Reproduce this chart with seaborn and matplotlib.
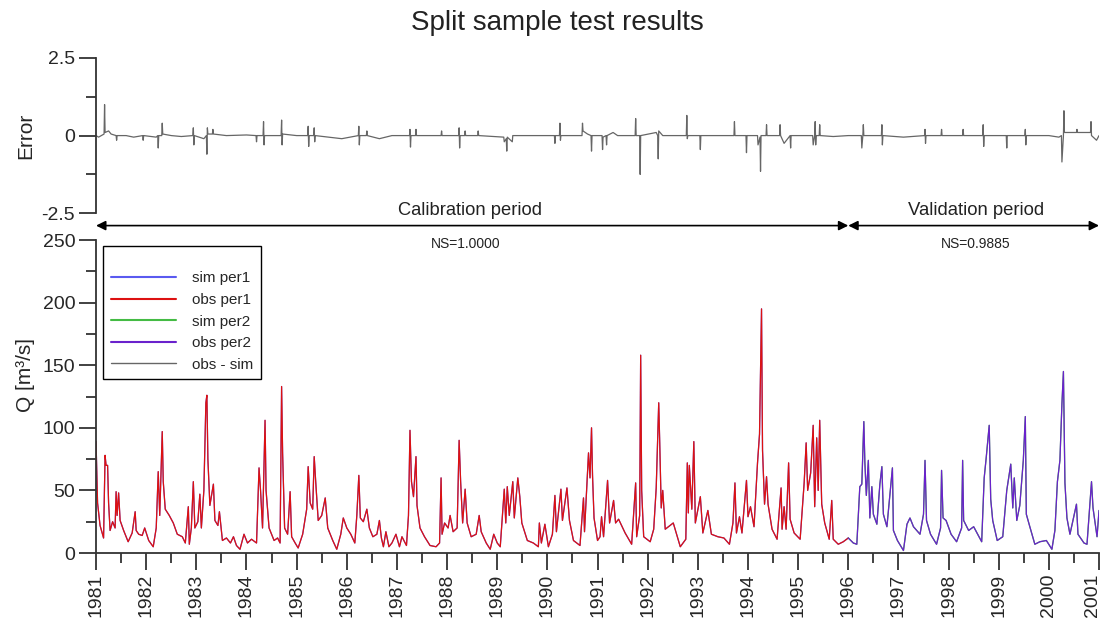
import matplotlib
matplotlib.use("Agg")
import matplotlib.pyplot as plt
from matplotlib.ticker import MultipleLocator, FixedLocator
from matplotlib.lines import Line2D
from matplotlib.transforms import ScaledTranslation
import seaborn as sns
import pandas as pd

# ---------------- data ----------------
# Discharge, calibration period (obs per1; sim per1 coincides, NS=1.0000)
per1_t = [1981.00, 1981.03, 1981.08, 1981.15, 1981.18, 1981.20, 1981.23, 1981.25, 1981.28, 1981.33,
          1981.38, 1981.40, 1981.42, 1981.45, 1981.48, 1981.55, 1981.64, 1981.72, 1981.78, 1981.80,
          1981.85, 1981.92, 1981.97, 1982.05, 1982.14, 1982.20, 1982.24, 1982.27, 1982.32, 1982.34,
          1982.38, 1982.46, 1982.54, 1982.62, 1982.72, 1982.78, 1982.84, 1982.86, 1982.90, 1982.94,
          1982.97, 1983.03, 1983.07, 1983.10, 1983.15, 1983.19, 1983.21, 1983.23, 1983.27, 1983.34,
          1983.37, 1983.43, 1983.46, 1983.52, 1983.60, 1983.68, 1983.74, 1983.80, 1983.87, 1983.95,
          1984.02, 1984.10, 1984.20, 1984.25, 1984.28, 1984.32, 1984.37, 1984.39, 1984.45, 1984.55,
          1984.62, 1984.67, 1984.70, 1984.72, 1984.76, 1984.82, 1984.87, 1984.90, 1984.97, 1985.03,
          1985.12, 1985.20, 1985.23, 1985.27, 1985.32, 1985.35, 1985.38, 1985.43, 1985.50, 1985.57,
          1985.62, 1985.72, 1985.80, 1985.88, 1985.93, 1986.00, 1986.08, 1986.16, 1986.20, 1986.24,
          1986.27, 1986.33, 1986.40, 1986.45, 1986.52, 1986.60, 1986.65, 1986.69, 1986.73, 1986.78,
          1986.84, 1986.90, 1986.98, 1987.05, 1987.10, 1987.19, 1987.23, 1987.26, 1987.29, 1987.33,
          1987.38, 1987.40, 1987.46, 1987.55, 1987.66, 1987.78, 1987.85, 1987.88, 1987.90, 1987.95,
          1988.02, 1988.06, 1988.12, 1988.20, 1988.24, 1988.27, 1988.31, 1988.36, 1988.40, 1988.48,
          1988.58, 1988.64, 1988.68, 1988.78, 1988.86, 1988.93, 1989.00, 1989.06, 1989.14, 1989.17,
          1989.20, 1989.24, 1989.31, 1989.34, 1989.41, 1989.45, 1989.49, 1989.60, 1989.72, 1989.82,
          1989.84, 1989.88, 1989.95, 1990.02, 1990.10, 1990.15, 1990.18, 1990.27, 1990.30, 1990.39,
          1990.44, 1990.52, 1990.65, 1990.72, 1990.74, 1990.82, 1990.85, 1990.88, 1990.90, 1990.93,
          1991.00, 1991.05, 1991.08, 1991.12, 1991.20, 1991.24, 1991.32, 1991.36, 1991.42, 1991.55,
          1991.68, 1991.76, 1991.78, 1991.84, 1991.86, 1991.88, 1991.92, 1992.05, 1992.12, 1992.17,
          1992.22, 1992.24, 1992.27, 1992.30, 1992.35, 1992.51, 1992.65, 1992.76, 1992.79, 1992.81,
          1992.83, 1992.88, 1992.92, 1992.95, 1993.05, 1993.10, 1993.20, 1993.27, 1993.40, 1993.52,
          1993.63, 1993.70, 1993.74, 1993.77, 1993.83, 1993.88, 1993.97, 1994.00, 1994.05, 1994.12,
          1994.19, 1994.23, 1994.27, 1994.29, 1994.33, 1994.37, 1994.40, 1994.48, 1994.58, 1994.66,
          1994.68, 1994.72, 1994.76, 1994.81, 1994.84, 1994.92, 1995.04, 1995.12, 1995.16, 1995.19,
          1995.25, 1995.30, 1995.33, 1995.37, 1995.40, 1995.43, 1995.47, 1995.53, 1995.62, 1995.67,
          1995.70, 1995.80, 1995.90, 1996.00]
per1_q = [89, 40, 22, 12, 78, 70, 70, 40, 18, 25,
          20, 49, 30, 48, 26, 18, 9, 16, 33, 18,
          15, 14, 20, 10, 5, 20, 65, 30, 97, 57,
          35, 30, 24, 15, 13, 8, 37, 7, 20, 57,
          20, 25, 47, 20, 50, 120, 126, 75, 38, 55,
          26, 22, 33, 10, 12, 8, 13, 6, 3, 15,
          8, 11, 8, 68, 50, 20, 106, 50, 20, 10,
          12, 8, 133, 80, 20, 15, 49, 13, 8, 4,
          15, 35, 69, 40, 35, 77, 57, 26, 30, 44,
          20, 10, 3, 15, 28, 20, 15, 8, 30, 62,
          28, 25, 35, 20, 13, 15, 26, 12, 5, 17,
          5, 8, 15, 5, 13, 6, 30, 98, 57, 45,
          77, 38, 20, 13, 6, 5, 8, 60, 15, 24,
          20, 30, 17, 20, 90, 57, 24, 51, 24, 13,
          15, 30, 17, 8, 3, 15, 8, 5, 51, 24,
          53, 30, 57, 28, 60, 45, 24, 10, 8, 5,
          24, 8, 23, 5, 15, 46, 17, 51, 26, 52,
          26, 10, 6, 44, 17, 80, 60, 100, 62, 28,
          10, 13, 29, 13, 58, 24, 42, 24, 27, 16,
          7, 56, 13, 30, 158, 50, 13, 9, 19, 52,
          120, 88, 36, 50, 19, 24, 5, 11, 72, 32,
          70, 35, 89, 24, 45, 16, 34, 15, 13, 12,
          7, 24, 56, 16, 29, 16, 58, 29, 37, 21,
          72, 95, 195, 82, 39, 61, 39, 19, 11, 52,
          19, 37, 19, 72, 27, 16, 11, 56, 88, 50,
          64, 102, 37, 92, 50, 106, 39, 24, 11, 42,
          11, 7, 9, 12]

# Discharge, validation period (obs per2; sim per2 coincides closely)
per2_t = [1996.00, 1996.05, 1996.10, 1996.17, 1996.23, 1996.27, 1996.31, 1996.33, 1996.36, 1996.40,
          1996.43, 1996.47, 1996.50, 1996.57, 1996.63, 1996.67, 1996.70, 1996.77, 1996.88, 1996.90,
          1996.98, 1997.10, 1997.17, 1997.23, 1997.30, 1997.43, 1997.50, 1997.53, 1997.56, 1997.64,
          1997.76, 1997.84, 1997.86, 1997.89, 1997.95, 1998.05, 1998.16, 1998.26, 1998.28, 1998.30,
          1998.40, 1998.50, 1998.66, 1998.71, 1998.75, 1998.81, 1998.84, 1998.88, 1998.97, 1999.08,
          1999.16, 1999.24, 1999.28, 1999.31, 1999.36, 1999.42, 1999.49, 1999.53, 1999.55, 1999.62,
          1999.72, 1999.82, 1999.95, 2000.06, 2000.12, 2000.17, 2000.22, 2000.26, 2000.29, 2000.32,
          2000.36, 2000.42, 2000.48, 2000.55, 2000.58, 2000.70, 2000.76, 2000.85, 2000.88, 2000.96,
          2001.00]
per2_q = [12, 10, 8, 7, 53, 55, 105, 73, 46, 74,
          28, 53, 31, 23, 55, 69, 31, 21, 68, 18,
          10, 2, 23, 28, 21, 15, 31, 74, 26, 15,
          7, 20, 66, 28, 26, 15, 9, 20, 74, 26,
          18, 21, 9, 60, 76, 102, 43, 26, 10, 13,
          50, 71, 36, 60, 26, 38, 74, 109, 31, 21,
          7, 9, 10, 3, 18, 57, 74, 119, 145, 56,
          28, 15, 26, 39, 15, 8, 7, 57, 36, 13,
          34]

# Error (obs - sim): mostly flat with sharp spikes
err_t = [1981.00, 1981.05, 1981.16, 1981.17, 1981.18, 1981.25, 1981.30, 1981.40, 1981.41, 1981.42,
         1981.60, 1981.75, 1981.93, 1981.94, 1981.95, 1982.20, 1982.23, 1982.24, 1982.25, 1982.31,
         1982.32, 1982.33, 1982.50, 1982.70, 1982.93, 1982.94, 1982.95, 1982.96, 1983.15, 1983.20,
         1983.21, 1983.22, 1983.23, 1983.32, 1983.33, 1983.34, 1983.60, 1984.00, 1984.19, 1984.20,
         1984.21, 1984.33, 1984.34, 1984.35, 1984.36, 1984.60, 1984.69, 1984.70, 1984.71, 1984.72,
         1985.00, 1985.22, 1985.23, 1985.24, 1985.25, 1985.34, 1985.35, 1985.36, 1985.37, 1985.90,
         1986.23, 1986.24, 1986.25, 1986.26, 1986.39, 1986.40, 1986.41, 1986.65, 1986.90, 1987.25,
         1987.26, 1987.27, 1987.28, 1987.37, 1987.38, 1987.39, 1987.88, 1987.89, 1987.90, 1988.23,
         1988.24, 1988.25, 1988.26, 1988.35, 1988.36, 1988.37, 1988.61, 1988.62, 1988.63, 1989.13,
         1989.14, 1989.18, 1989.19, 1989.20, 1989.30, 1989.31, 1989.80, 1990.14, 1990.15, 1990.16,
         1990.24, 1990.25, 1990.26, 1990.27, 1990.69, 1990.70, 1990.71, 1990.80, 1990.87, 1990.88,
         1990.89, 1991.09, 1991.10, 1991.11, 1991.17, 1991.18, 1991.19, 1991.31, 1991.40, 1991.75,
         1991.76, 1991.77, 1991.84, 1991.85, 1991.86, 1992.17, 1992.20, 1992.21, 1992.22, 1992.30,
         1992.77, 1992.78, 1992.79, 1992.80, 1993.04, 1993.05, 1993.06, 1993.72, 1993.73, 1993.74,
         1993.96, 1993.97, 1993.98, 1994.19, 1994.20, 1994.24, 1994.25, 1994.26, 1994.36, 1994.37,
         1994.38, 1994.63, 1994.64, 1994.65, 1994.72, 1994.84, 1994.85, 1994.86, 1995.29, 1995.30,
         1995.33, 1995.34, 1995.35, 1995.36, 1995.42, 1995.43, 1995.44, 1995.70, 1996.00, 1996.26,
         1996.27, 1996.29, 1996.30, 1996.31, 1996.66, 1996.67, 1996.68, 1996.69, 1997.10, 1997.52,
         1997.53, 1997.54, 1997.55, 1997.85, 1997.86, 1997.87, 1998.28, 1998.29, 1998.30, 1998.68,
         1998.69, 1998.70, 1998.71, 1999.15, 1999.16, 1999.17, 1999.52, 1999.53, 1999.54, 1999.55,
         2000.00, 2000.20, 2000.25, 2000.26, 2000.29, 2000.30, 2000.31, 2000.55, 2000.56, 2000.57,
         2000.83, 2000.84, 2000.85, 2000.95, 2001.00]
err_v = [0.00, -0.05, 0.05, 1.00, 0.10, 0.15, 0.05, 0.00, -0.15, 0.00,
         0.00, -0.05, 0.00, -0.15, 0.00, -0.05, 0.00, -0.40, 0.00, 0.00,
         0.40, 0.05, 0.00, -0.03, 0.00, 0.25, -0.30, 0.00, -0.10, 0.00,
         -0.60, 0.25, 0.05, 0.05, 0.20, 0.05, 0.00, 0.02, 0.00, -0.20,
         0.00, 0.00, 0.45, -0.30, 0.00, 0.00, 0.00, 0.50, -0.30, 0.05,
         0.00, 0.00, 0.30, -0.35, 0.00, 0.00, 0.25, -0.20, 0.00, -0.10,
         0.00, 0.30, -0.30, 0.00, 0.00, 0.15, 0.00, -0.10, 0.00, 0.00,
         0.20, -0.37, 0.00, 0.00, 0.20, 0.00, 0.00, 0.15, 0.00, 0.00,
         0.25, -0.40, 0.00, 0.00, 0.15, 0.00, 0.00, 0.15, 0.00, -0.05,
         -0.20, -0.10, -0.50, -0.05, -0.20, 0.00, 0.00, 0.00, -0.25, 0.00,
         0.00, 0.40, -0.15, 0.00, 0.00, 0.40, 0.15, 0.05, 0.00, -0.50,
         0.00, 0.00, -0.45, -0.05, 0.00, -0.30, 0.00, 0.10, 0.00, 0.00,
         0.55, 0.00, 0.00, -1.25, 0.00, 0.10, 0.00, -0.75, 0.15, 0.00,
         0.00, 0.65, -0.10, 0.00, 0.00, -0.45, 0.00, 0.00, 0.45, 0.00,
         0.00, -0.55, 0.00, 0.00, -0.30, -0.05, -1.15, 0.00, 0.00, 0.35,
         0.00, 0.00, 0.35, 0.00, -0.25, 0.00, -0.40, 0.00, 0.00, -0.30,
         0.00, 0.45, -0.30, 0.00, 0.00, 0.35, 0.00, -0.03, 0.00, 0.00,
         -0.40, 0.00, 0.35, 0.00, 0.00, 0.35, -0.30, 0.00, -0.05, 0.00,
         0.20, -0.25, 0.00, 0.00, 0.20, 0.00, 0.00, 0.20, 0.00, 0.00,
         0.35, -0.35, 0.00, 0.00, -0.40, 0.00, 0.00, 0.20, -0.30, 0.00,
         0.00, -0.05, 0.00, -0.85, 0.00, 0.80, 0.10, 0.10, 0.20, 0.10,
         0.10, 0.45, 0.00, -0.15, 0.00]

years = list(range(1981, 2002))
ns_cal = "NS=1.0000"
ns_val = "NS=0.9885"

# ---------------- styling ----------------
sns.set_style("ticks")
plt.rcParams["font.family"] = ["Liberation Sans", "DejaVu Sans"]
spine_col = "#333333"

c_sim1 = "#5a5af0"
c_obs1 = "#dd1111"
c_sim2 = "#44bb44"
c_obs2 = "#6a22cc"
c_err = "#666666"

df1 = pd.DataFrame({"t": per1_t, "q": per1_q})
df2 = pd.DataFrame({"t": per2_t, "q": per2_q})
dfe = pd.DataFrame({"t": err_t, "e": err_v})

fig = plt.figure(figsize=(11.04, 6.27), dpi=100)
ax1 = fig.add_axes([0.087, 0.660, 0.9085, 0.2475])
ax2 = fig.add_axes([0.087, 0.118, 0.9085, 0.4992])
ax2.patch.set_alpha(0)
ax1.patch.set_alpha(0)

# --- top panel: error ---
sns.lineplot(data=dfe, x="t", y="e", ax=ax1, color=c_err, lw=0.9, estimator=None, sort=False)
ax1.set_xlim(1981, 2001)
ax1.set_ylim(-2.5, 2.5)
for s in ["top", "right", "bottom"]:
    ax1.spines[s].set_visible(False)
ax1.spines["left"].set_color(spine_col)
ax1.spines["left"].set_linewidth(1.3)
ax1.set_xticks([])
ax1.set_xlabel("")
ax1.yaxis.set_major_locator(FixedLocator([-2.5, 0, 2.5]))
ax1.yaxis.set_minor_locator(FixedLocator([-1.25, 1.25]))
ax1.set_yticklabels(["-2.5", "0", "2.5"])
ax1.tick_params(axis="y", which="major", length=12, width=1.3, color=spine_col, labelsize=14, pad=3)
ax1.tick_params(axis="y", which="minor", length=7, width=1.3, color=spine_col)
ax1.set_ylabel("Error", fontsize=15)
ax1.yaxis.set_label_coords(-0.061, 0.5)

# --- bottom panel: discharge ---
sns.lineplot(data=df1, x="t", y="q", ax=ax2, color=c_sim1, lw=0.9, estimator=None, sort=False)
sns.lineplot(data=df1, x="t", y="q", ax=ax2, color=c_obs1, lw=0.9, estimator=None, sort=False)
sns.lineplot(data=df2, x="t", y="q", ax=ax2, color=c_sim2, lw=0.9, estimator=None, sort=False)
sns.lineplot(data=df2, x="t", y="q", ax=ax2, color=c_obs2, lw=0.9, estimator=None, sort=False)
ax2.set_xlim(1981, 2001)
ax2.set_ylim(0, 250)
for s in ["top", "right"]:
    ax2.spines[s].set_visible(False)
for s in ["left", "bottom"]:
    ax2.spines[s].set_color(spine_col)
    ax2.spines[s].set_linewidth(1.3)
ax2.xaxis.set_major_locator(FixedLocator(years))
ax2.xaxis.set_minor_locator(MultipleLocator(0.5))
ax2.set_xticklabels([str(y) for y in years], rotation=90)
ax2.yaxis.set_major_locator(MultipleLocator(50))
ax2.yaxis.set_minor_locator(MultipleLocator(25))
ax2.tick_params(axis="both", which="major", length=12, width=1.3, color=spine_col, labelsize=14, pad=3)
ax2.tick_params(axis="both", which="minor", length=7, width=1.3, color=spine_col)
ax2.set_xlabel("")
ax2.set_ylabel("Q [m³/s]", fontsize=15)
ax2.yaxis.set_label_coords(-0.061, 0.57)

# keep the last year label inside the canvas
last_lab = ax2.get_xticklabels()[-1]
last_lab.set_transform(last_lab.get_transform() + ScaledTranslation(-5 / 72, 0, fig.dpi_scale_trans))

handles = [Line2D([], [], color=c_sim1, lw=1.5),
           Line2D([], [], color=c_obs1, lw=1.5),
           Line2D([], [], color=c_sim2, lw=1.5),
           Line2D([], [], color=c_obs2, lw=1.5),
           Line2D([], [], color=c_err, lw=1.0)]
labels = ["sim per1", "obs per1", "sim per2", "obs per2", "obs - sim"]
leg = ax2.legend(handles, labels, loc="upper left", bbox_to_anchor=(0.007, 0.981),
                 borderaxespad=0, fontsize=11, handlelength=4.3, handletextpad=1.0,
                 labelspacing=0.5, title=" ", title_fontsize=7, frameon=True,
                 fancybox=False, borderpad=0.5)
leg.get_frame().set_edgecolor("black")
leg.get_frame().set_linewidth(1.0)
leg.get_frame().set_alpha(1)

# --- period arrows and labels ---
arrow_y = -0.08
trans = ax1.get_xaxis_transform()
ax1.annotate("", xy=(1981, arrow_y), xytext=(1996, arrow_y), xycoords=trans, textcoords=trans,
             arrowprops=dict(arrowstyle="<|-|>", color="black", lw=1.2, mutation_scale=14,
                             shrinkA=0, shrinkB=0), annotation_clip=False)
ax1.annotate("", xy=(1996, arrow_y), xytext=(2001, arrow_y), xycoords=trans, textcoords=trans,
             arrowprops=dict(arrowstyle="<|-|>", color="black", lw=1.2, mutation_scale=14,
                             shrinkA=0, shrinkB=0), annotation_clip=False)
ax1.text(1988.45, -0.01, "Calibration period", transform=trans, ha="center", va="baseline",
         fontsize=13.2, color="#222222")
ax1.text(1998.55, -0.01, "Validation period", transform=trans, ha="center", va="baseline",
         fontsize=13.3, color="#222222")
ax1.text(1988.38, -0.225, ns_cal, transform=trans, ha="center", va="baseline", fontsize=10,
         color="#222222")
ax1.text(1998.55, -0.225, ns_val, transform=trans, ha="center", va="baseline", fontsize=10,
         color="#222222")

fig.text(0.505, 0.963, "Split sample test results", ha="center", va="center", fontsize=20,
         color="#222222")

fig.savefig("out.png", dpi=100)
